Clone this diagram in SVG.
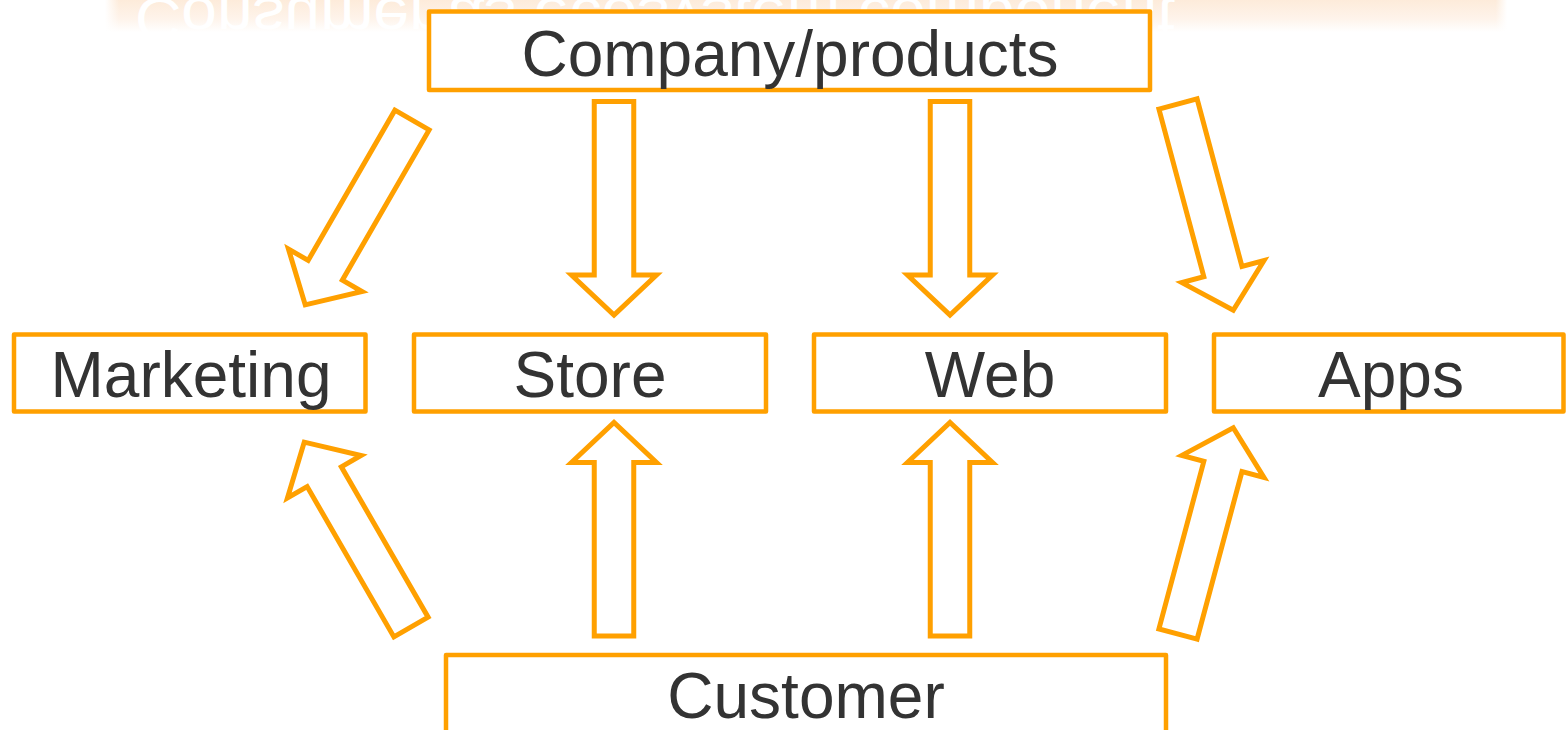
<svg xmlns="http://www.w3.org/2000/svg" width="1566" height="730" viewBox="0 0 1566 730">
  <defs>
    <linearGradient id="strip" x1="0" y1="0" x2="0" y2="1">
      <stop offset="0" stop-color="#FDEBDA"/>
      <stop offset="0.6" stop-color="#FEF4EB"/>
      <stop offset="1" stop-color="#FFFFFF"/>
    </linearGradient>
    <linearGradient id="stripEdge" x1="0" y1="0" x2="1" y2="0">
      <stop offset="0" stop-color="#FFFFFF" stop-opacity="1"/>
      <stop offset="0.01" stop-color="#FFFFFF" stop-opacity="0"/>
      <stop offset="0.992" stop-color="#FFFFFF" stop-opacity="0"/>
      <stop offset="1" stop-color="#FFFFFF" stop-opacity="1"/>
    </linearGradient>
    <path id="arrow" d="M -19.75 0 L 19.75 0 L 19.75 173.5 L 42.5 173.5 L 0 213.5 L -42.5 173.5 L -19.75 173.5 Z"/>
    <clipPath id="stripClip"><rect x="105" y="0" width="1402" height="32"/></clipPath>
  </defs>
  <style>
    .box { fill: #FFFFFF; stroke: #FFA000; stroke-width: 4.5; stroke-linejoin: round; }
    .arr { fill: #FFFFFF; stroke: #FFA000; stroke-width: 5; stroke-linejoin: miter; }
    .lbl { font-family: "Liberation Sans", Arial, sans-serif; font-size: 64px; fill: #333333; text-anchor: middle; }
    .refl { font-family: "Liberation Sans", Arial, sans-serif; font-size: 60px; fill: #FFFFFF; }
  </style>
  <rect width="1566" height="730" fill="#FFFFFF"/>

  <g id="reflection" clip-path="url(#stripClip)">
    <rect x="105" y="0" width="1402" height="32" fill="url(#strip)"/>
    <text class="refl" transform="translate(0,-2) scale(1,-1)" x="135" y="0" textLength="1040" lengthAdjust="spacingAndGlyphs">Consumer as ecosystem component</text>
    <rect x="105" y="0" width="1402" height="32" fill="url(#stripEdge)"/>
  </g>

  <g id="connectors">
    <use href="#arrow" class="arr" transform="translate(412,120) rotate(30)"/>
    <use href="#arrow" class="arr" transform="translate(614,101.5)"/>
    <use href="#arrow" class="arr" transform="translate(950,101.5)"/>
    <use href="#arrow" class="arr" transform="translate(1178,104) rotate(-15)"/>
    <use href="#arrow" class="arr" transform="translate(411,627) rotate(150)"/>
    <use href="#arrow" class="arr" transform="translate(614,636) rotate(180)"/>
    <use href="#arrow" class="arr" transform="translate(950,636) rotate(180)"/>
    <use href="#arrow" class="arr" transform="translate(1178,634) rotate(195)"/>
  </g>

  <g id="company">
    <rect class="box" x="429" y="11.5" width="721" height="78.5"/>
    <text class="lbl" x="790" y="76">Company/products</text>
  </g>
  <g id="marketing">
    <rect class="box" x="14" y="334.5" width="351.5" height="77"/>
    <text class="lbl" x="191" y="397">Marketing</text>
  </g>
  <g id="store">
    <rect class="box" x="414" y="334.5" width="352" height="77"/>
    <text class="lbl" x="590" y="397">Store</text>
  </g>
  <g id="web">
    <rect class="box" x="814" y="334.5" width="352" height="77"/>
    <text class="lbl" x="990" y="397">Web</text>
  </g>
  <g id="apps">
    <rect class="box" x="1214" y="334.5" width="349.5" height="77"/>
    <text class="lbl" x="1391" y="397">Apps</text>
  </g>
  <g id="customer">
    <rect class="box" x="446" y="655" width="720" height="90"/>
    <text class="lbl" x="806" y="718">Customer</text>
  </g>
</svg>
